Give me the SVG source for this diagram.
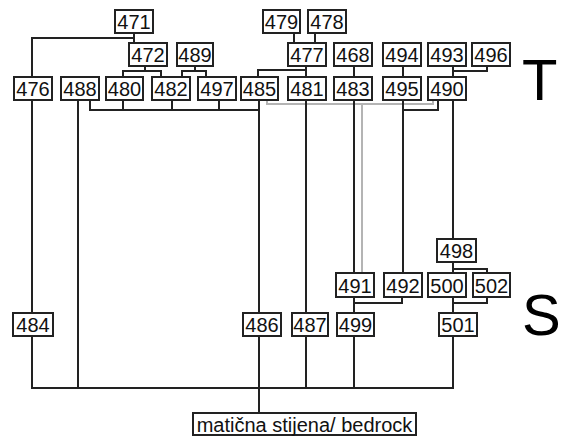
<svg xmlns="http://www.w3.org/2000/svg" width="570" height="438" viewBox="0 0 570 438">
  <style>
    .box rect { fill: #fff; stroke: #222; stroke-width: 2; }
    .box text { font-family: "Liberation Sans", Arial, sans-serif; font-size: 20px; fill: #111; text-anchor: middle; }
    .wire { fill: none; stroke: #222; stroke-width: 2; }
    .wire-grey { fill: none; stroke: #b4b4b4; stroke-width: 2; }
    .big { font-family: "Liberation Sans", Arial, sans-serif; font-size: 58px; fill: #000; }
  </style>

  <!-- connectors -->
  <g id="connectors">
    <path class="wire-grey" d="M267,100 V104 H433 V100 M362,104 V273"/>
    <path class="wire" d="
      M32,77 V38 H134 M134,33 V43
      M294,33 V43 M315,33 V43
      M145,66 V71 M123,77 V71 H161 V77
      M195,66 V71 M182,77 V71 H206 V77
      M306,66 V77 M258,77 V70 H306
      M354,66 V77
      M403,66 V77
      M453,66 V77 M453,71 H487 V66
      M90,100 V110 H259 M123,100 V110 M172,100 V110 M219,100 V110
      M259,100 V313 M259,336 V413
      M78,100 V388
      M32,100 V313 M32,336 V388 H453 V336
      M306,100 V313 M306,336 V388
      M354,100 V273 M354,297 V313 M354,336 V388
      M403,100 V273 M438,100 V110 H403
      M453,100 V239
      M453,262 V273 M453,269 H487 V273
      M453,297 V313 M453,303 H487 V297
      M354,303 H402 V297"/>
  </g>

  <!-- top row -->
  <g id="n471" class="box"><rect x="115" y="10" width="38" height="23"/><text x="134" y="28.5">471</text></g>
  <g id="n479" class="box"><rect x="263" y="10" width="37" height="23"/><text x="281.5" y="28.5">479</text></g>
  <g id="n478" class="box"><rect x="308" y="10" width="38" height="23"/><text x="327" y="28.5">478</text></g>

  <!-- second row -->
  <g id="n472" class="box"><rect x="129" y="43" width="38" height="23"/><text x="148" y="61.5">472</text></g>
  <g id="n489" class="box"><rect x="177" y="43" width="36" height="23"/><text x="195" y="61.5">489</text></g>
  <g id="n477" class="box"><rect x="288" y="43" width="38" height="23"/><text x="307" y="61.5">477</text></g>
  <g id="n468" class="box"><rect x="334" y="43" width="38" height="23"/><text x="353" y="61.5">468</text></g>
  <g id="n494" class="box"><rect x="383" y="43" width="38" height="23"/><text x="402" y="61.5">494</text></g>
  <g id="n493" class="box"><rect x="428" y="43" width="38" height="23"/><text x="447" y="61.5">493</text></g>
  <g id="n496" class="box"><rect x="472" y="43" width="38" height="23"/><text x="491" y="61.5">496</text></g>

  <!-- third row -->
  <g id="n476" class="box"><rect x="14" y="77" width="38" height="23"/><text x="33" y="95.5">476</text></g>
  <g id="n488" class="box"><rect x="61" y="77" width="38" height="23"/><text x="80" y="95.5">488</text></g>
  <g id="n480" class="box"><rect x="106" y="77" width="37" height="23"/><text x="124.5" y="95.5">480</text></g>
  <g id="n482" class="box"><rect x="152" y="77" width="38" height="23"/><text x="171" y="95.5">482</text></g>
  <g id="n497" class="box"><rect x="198" y="77" width="38" height="23"/><text x="217" y="95.5">497</text></g>
  <g id="n485" class="box"><rect x="241" y="77" width="37" height="23"/><text x="259.5" y="95.5">485</text></g>
  <g id="n481" class="box"><rect x="288" y="77" width="38" height="23"/><text x="307" y="95.5">481</text></g>
  <g id="n483" class="box"><rect x="334" y="77" width="38" height="23"/><text x="353" y="95.5">483</text></g>
  <g id="n495" class="box"><rect x="383" y="77" width="38" height="23"/><text x="402" y="95.5">495</text></g>
  <g id="n490" class="box"><rect x="428" y="77" width="38" height="23"/><text x="447" y="95.5">490</text></g>

  <!-- lower nodes -->
  <g id="n498" class="box"><rect x="437" y="239" width="39" height="23"/><text x="456.5" y="257.5">498</text></g>
  <g id="n491" class="box"><rect x="336" y="273" width="38" height="24"/><text x="355" y="292.5">491</text></g>
  <g id="n492" class="box"><rect x="384" y="273" width="38" height="24"/><text x="403" y="292.5">492</text></g>
  <g id="n500" class="box"><rect x="428" y="273" width="38" height="24"/><text x="447" y="292.5">500</text></g>
  <g id="n502" class="box"><rect x="473" y="273" width="37" height="24"/><text x="491.5" y="292.5">502</text></g>

  <g id="n484" class="box"><rect x="13" y="313" width="40" height="23"/><text x="33" y="331.5">484</text></g>
  <g id="n486" class="box"><rect x="243" y="313" width="38" height="23"/><text x="262" y="331.5">486</text></g>
  <g id="n487" class="box"><rect x="292" y="313" width="36" height="23"/><text x="310" y="331.5">487</text></g>
  <g id="n499" class="box"><rect x="337" y="313" width="37" height="23"/><text x="355.5" y="331.5">499</text></g>
  <g id="n501" class="box"><rect x="439" y="313" width="38" height="23"/><text x="458" y="331.5">501</text></g>

  <!-- base -->
  <g id="bedrock" class="box"><rect x="193" y="413" width="223" height="22"/><text x="304.5" y="431.5">matična stijena/ bedrock</text></g>

  <!-- side labels -->
  <text class="big" x="522" y="100">T</text>
  <text class="big" x="522" y="335">S</text>
</svg>
